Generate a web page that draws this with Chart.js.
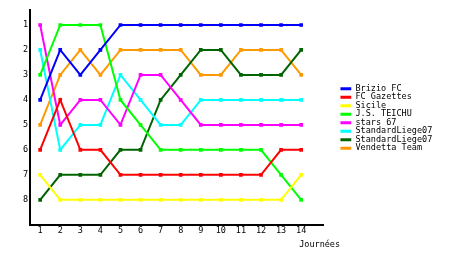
<!DOCTYPE html>
<html>
<head>
<meta charset="utf-8">
<script src="https://cdn.jsdelivr.net/npm/chart.js@4"></script>
<style>
  html, body { margin: 0; padding: 0; background: #fff; }
  #wrap { width: 460px; height: 255px; }
</style>
</head>
<body>
<div id="wrap"><canvas id="chart"></canvas></div>
<script>
const journees = [1, 2, 3, 4, 5, 6, 7, 8, 9, 10, 11, 12, 13, 14];
const rankTicks = [1, 2, 3, 4, 5, 6, 7, 8];

const brizio     = [4, 2, 3, 2, 1, 1, 1, 1, 1, 1, 1, 1, 1, 1];
const gazettes   = [6, 4, 6, 6, 7, 7, 7, 7, 7, 7, 7, 7, 6, 6];
const sicile     = [7, 8, 8, 8, 8, 8, 8, 8, 8, 8, 8, 8, 8, 7];
const teichu     = [3, 1, 1, 1, 4, 5, 6, 6, 6, 6, 6, 6, 7, 8];
const stars67    = [1, 5, 4, 4, 5, 3, 3, 4, 5, 5, 5, 5, 5, 5];
const liegeA     = [2, 6, 5, 5, 3, 4, 5, 5, 4, 4, 4, 4, 4, 4];
const liegeB     = [8, 7, 7, 7, 6, 6, 4, 3, 2, 2, 3, 3, 3, 2];
const vendetta   = [5, 3, 2, 3, 2, 2, 2, 2, 3, 3, 2, 2, 2, 3];

const teams = ["Brizio FC", "FC Gazettes", "Sicile", "J.S. TEICHU", "stars 67",
               "StandardLiege07", "StandardLiege07", "Vendetta Team"];
const colors = ["#0000ff", "#ff0000", "#ffff00", "#00ff00", "#ff00ff",
                "#00ffff", "#006400", "#ff9900"];
const series = [brizio, gazettes, sicile, teichu, stars67, liegeA, liegeB, vendetta];

const font = { family: "'DejaVu Sans Mono', monospace", size: 8.5 };

// push legend a bit right of the plot and up a little
const legendShift = {
  id: "legendShift",
  afterLayout(chart) {
    const lg = chart.legend;
    lg.left += 17;
    lg.right += 17;
    lg.top -= 5;
    lg.bottom -= 5;
  }
};

// x axis label written under the last day
const xLabel = {
  id: "xLabel",
  afterDraw(chart) {
    const sx = chart.scales.x;
    const ctx = chart.ctx;
    ctx.save();
    ctx.font = font.size + "px " + font.family;
    ctx.fillStyle = "#000";
    ctx.textAlign = "left";
    ctx.textBaseline = "middle";
    ctx.fillText("Journées", sx.getPixelForValue(journees[journees.length - 1]) - 2, sx.bottom + 8);
    ctx.restore();
  }
};

const datasets = teams.map((t, i) => ({
  label: t,
  data: journees.map((d, j) => ({ x: d, y: series[i][j] })),
  borderColor: colors[i],
  backgroundColor: colors[i],
  borderWidth: 2,
  pointStyle: "rect",
  pointRadius: 2.6,
  pointBorderWidth: 0,
  pointHoverRadius: 2.6,
  tension: 0,
  fill: false
}));

new Chart(document.getElementById("chart"), {
  type: "line",
  data: { datasets },
  plugins: [legendShift, xLabel],
  options: {
    responsive: true,
    maintainAspectRatio: false,
    animation: false,
    layout: { padding: { left: 21, top: 10, right: 36, bottom: 18 } },
    scales: {
      x: {
        type: "linear",
        min: 0.5,
        max: 15.1,
        afterBuildTicks: s => { s.ticks = journees.map(v => ({ value: v })); },
        grid: { display: false, drawTicks: false },
        border: { display: true, color: "#000", width: 2 },
        ticks: { color: "#000", font, padding: 1, maxRotation: 0, autoSkip: false }
      },
      y: {
        reverse: true,
        min: 0.4,
        max: 9,
        afterBuildTicks: s => { s.ticks = rankTicks.map(v => ({ value: v })); },
        grid: { display: false, drawTicks: false },
        border: { display: true, color: "#000", width: 2 },
        ticks: { color: "#000", font, padding: 2 }
      }
    },
    plugins: {
      tooltip: { enabled: false },
      legend: {
        position: "right",
        labels: {
          color: "#000",
          font: { family: font.family, size: font.size, lineHeight: "10px" },
          boxWidth: 11,
          boxHeight: 3,
          padding: 0,
          generateLabels: chart => chart.data.datasets.map((ds, i) => ({
            text: ds.label,
            fillStyle: ds.borderColor,
            strokeStyle: ds.borderColor,
            lineWidth: 0,
            hidden: false,
            datasetIndex: i
          }))
        }
      }
    }
  }
});
</script>
</body>
</html>
